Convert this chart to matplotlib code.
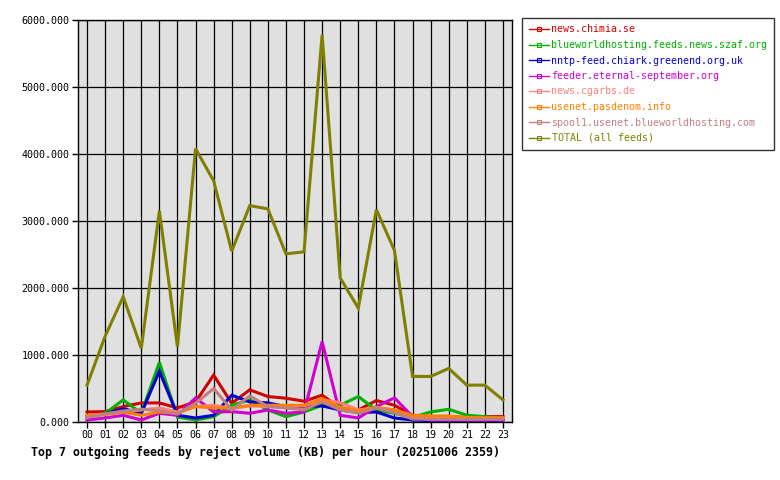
import matplotlib
matplotlib.use("Agg")
import matplotlib.pyplot as plt
from matplotlib.lines import Line2D

hours = ["%02d" % h for h in range(24)]

feeds = ["news.chimia.se",
         "blueworldhosting.feeds.news.szaf.org",
         "nntp-feed.chiark.greenend.org.uk",
         "feeder.eternal-september.org",
         "news.cgarbs.de",
         "usenet.pasdenom.info",
         "spool1.usenet.blueworldhosting.com",
         "TOTAL (all feeds)"]

colors = ["#d00000", "#00b000", "#0000d0", "#d000d0",
          "#ff8080", "#ff8000", "#c08080", "#808000"]

chimia = [150, 155, 230, 285, 285, 210, 300, 700, 280, 480, 380, 355,
          310, 400, 210, 180, 320, 250, 100, 70, 70, 70, 80, 80]
szaf = [80, 130, 330, 130, 890, 75, 30, 80, 250, 330, 180, 80,
        150, 250, 250, 380, 180, 130, 70, 150, 190, 100, 80, 50]
chiark = [80, 120, 200, 130, 760, 100, 60, 100, 400, 300, 285, 230,
          230, 240, 180, 140, 150, 60, 30, 20, 20, 20, 20, 20]
eternal = [30, 60, 100, 30, 130, 100, 360, 150, 155, 130, 180, 130,
           150, 1200, 100, 60, 230, 360, 80, 30, 30, 30, 30, 30]
cgarbs = [95, 120, 150, 180, 210, 150, 230, 250, 200, 240, 230, 230,
          240, 330, 290, 180, 210, 180, 70, 60, 60, 60, 60, 60]
pasdenom = [100, 110, 150, 100, 150, 130, 230, 210, 210, 250, 250, 250,
            250, 350, 220, 165, 220, 180, 100, 90, 90, 70, 60, 60]
spool1 = [65, 120, 165, 190, 170, 120, 280, 500, 180, 390, 230, 210,
          180, 300, 180, 130, 210, 140, 45, 40, 40, 40, 40, 40]
total = [550, 1280, 1870, 1100, 3150, 1120, 4080, 3600, 2550, 3230, 3180, 2510,
         2540, 5780, 2150, 1700, 3170, 2560, 680, 680, 800, 550, 550, 330]

series = [chimia, szaf, chiark, eternal, cgarbs, pasdenom, spool1, total]

mono = "DejaVu Sans Mono"

fig = plt.figure(figsize=(7.8, 4.8), dpi=100)
ax = fig.add_axes([78 / 780, 1 - 422 / 480, 434 / 780, 402 / 480])
ax.set_facecolor("#e0e0e0")

x = list(range(24))
for vals, c in zip(series, colors):
    ax.plot(x, vals, color=c, linewidth=2.2, solid_joinstyle="miter", zorder=3)

ax.set_xlim(-0.5, 23.5)
ax.set_ylim(0, 6000)
ax.set_xticks(x)
ax.set_xticklabels(hours, fontfamily=mono, fontsize=7.2)
ax.set_yticks(range(0, 6001, 1000))
ax.set_yticklabels(["%d.000" % v for v in range(0, 6001, 1000)],
                   fontfamily=mono, fontsize=7.2)
ax.tick_params(length=4, width=1, color="black", pad=2)
ax.grid(True, color="black", linewidth=0.9, zorder=1)
ax.set_axisbelow(True)
for s in ax.spines.values():
    s.set_linewidth(1)
    s.set_color("black")

fig.text(31 / 780, 1 - 452 / 480,
         "Top 7 outgoing feeds by reject volume (KB) per hour (20251006 2359)",
         fontfamily=mono, fontsize=8.4, fontweight="bold", va="center", ha="left")

handles = [Line2D([0], [0], color=c, linewidth=1, marker="s", markersize=3,
                  markerfacecolor="none", markeredgewidth=0.8) for c in colors]
leg = fig.legend(handles, feeds, loc="upper left",
                 bbox_to_anchor=(522 / 780, 1 - 18 / 480),
                 prop={"family": mono, "size": 7.2},
                 frameon=True, fancybox=False, edgecolor="black",
                 handlelength=2.0, handletextpad=0.3, labelspacing=0.55,
                 borderpad=0.65, borderaxespad=0)
leg.get_frame().set_linewidth(1)
for t, c in zip(leg.get_texts(), colors):
    t.set_color(c)

fig.savefig("out.png", dpi=100)
